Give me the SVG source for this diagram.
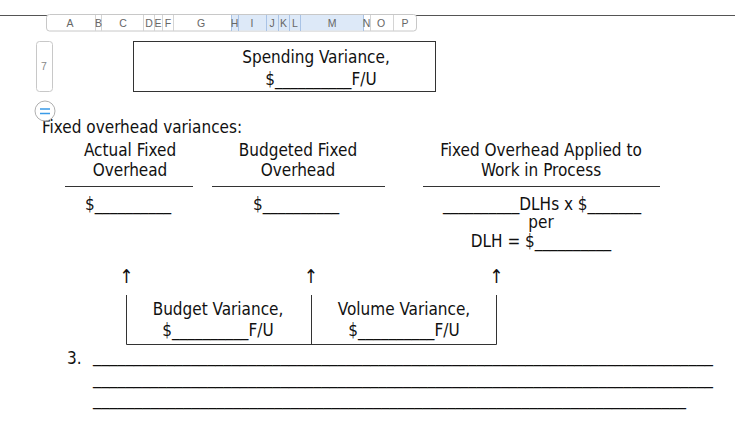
<svg xmlns="http://www.w3.org/2000/svg" width="735" height="448" viewBox="0 0 735 448">
<style>
.t{font-family:"DejaVu Sans Condensed","DejaVu Sans",sans-serif;font-size:17px;fill:#111}
.m{text-anchor:middle}
.h{font-family:"Liberation Sans",Arial,sans-serif;font-size:10.5px;fill:#666;text-anchor:middle}
.ln{stroke:#333;stroke-width:1;fill:none}
.dv{stroke:#d4d4d4;stroke-width:1}
.db{stroke:#a9c3e6;stroke-width:1}
.ar{font-size:19px}
</style>
<rect width="735" height="448" fill="#fff"/>
<g id="sheet-ui">
 <line x1="0" y1="15.5" x2="735" y2="15.5" stroke="#555" stroke-width="1"/>
 <rect x="46.5" y="14.5" width="370" height="16.5" rx="3" fill="#fff" stroke="#c8c8c8"/>
 <rect x="231" y="15" width="132" height="15.5" fill="#dde9f8"/>
 <line class="dv" x1="95.5" y1="15" x2="95.5" y2="31"/>
 <line class="dv" x1="101.5" y1="15" x2="101.5" y2="31"/>
 <line class="dv" x1="143.5" y1="15" x2="143.5" y2="31"/>
 <line class="dv" x1="154.5" y1="15" x2="154.5" y2="31"/>
 <line class="dv" x1="162.5" y1="15" x2="162.5" y2="31"/>
 <line class="dv" x1="173.5" y1="15" x2="173.5" y2="31"/>
 <line class="db" x1="231.5" y1="15" x2="231.5" y2="31"/>
 <line class="db" x1="238.5" y1="15" x2="238.5" y2="31"/>
 <line class="db" x1="266.5" y1="15" x2="266.5" y2="31"/>
 <line class="db" x1="278.5" y1="15" x2="278.5" y2="31"/>
 <line class="db" x1="289.5" y1="15" x2="289.5" y2="31"/>
 <line class="db" x1="300.5" y1="15" x2="300.5" y2="31"/>
 <line class="db" x1="363.5" y1="15" x2="363.5" y2="31"/>
 <line class="dv" x1="370.5" y1="15" x2="370.5" y2="31"/>
 <line class="dv" x1="393.5" y1="15" x2="393.5" y2="31"/>
 <text class="h" x="70" y="27">A</text>
 <text class="h" x="98.5" y="27">B</text>
 <text class="h" x="123" y="27">C</text>
 <text class="h" x="149" y="27">D</text>
 <text class="h" x="158" y="27">E</text>
 <text class="h" x="168" y="27">F</text>
 <text class="h" x="201" y="27">G</text>
 <text class="h" x="234.5" y="27">H</text>
 <text class="h" x="252" y="27">I</text>
 <text class="h" x="272" y="27">J</text>
 <text class="h" x="283.5" y="27">K</text>
 <text class="h" x="295" y="27">L</text>
 <text class="h" x="332" y="27">M</text>
 <text class="h" x="366.5" y="27">N</text>
 <text class="h" x="381" y="27">O</text>
 <text class="h" x="405" y="27">P</text>
 <rect x="36.5" y="41.5" width="16" height="50" rx="3" fill="#fff" stroke="#c8c8c8"/>
 <text class="h" x="44" y="70" style="fill:#888">7</text>
</g>
<g id="spending">
 <rect class="ln" x="133.5" y="41.5" width="302" height="50"/>
 <text class="t m" x="316" y="62.5">Spending Variance,</text>
 <text class="t m" x="321" y="85">$__________F/U</text>
</g>
<g id="title">
 <text class="t" x="42" y="133">Fixed overhead variances:</text>
</g>
<g id="actual">
 <text class="t m" x="130" y="156">Actual Fixed</text>
 <text class="t m" x="130" y="175.5">Overhead</text>
 <line class="ln" x1="65" y1="186.5" x2="193" y2="186.5"/>
 <text class="t" x="85" y="210">$__________</text>
</g>
<g id="budgeted">
 <text class="t m" x="298" y="156">Budgeted Fixed</text>
 <text class="t m" x="298" y="175.5">Overhead</text>
 <line class="ln" x1="212" y1="186.5" x2="385" y2="186.5"/>
 <text class="t" x="253" y="210">$__________</text>
</g>
<g id="applied">
 <text class="t m" x="541" y="156">Fixed Overhead Applied to</text>
 <text class="t m" x="541" y="175.5">Work in Process</text>
 <line class="ln" x1="423" y1="186.5" x2="660" y2="186.5"/>
 <text class="t m" x="542" y="209.5">__________DLHs x $_______</text>
 <text class="t m" x="541" y="227.5">per</text>
 <text class="t m" x="541" y="247">DLH = $__________</text>
</g>
<g id="budget-variance">
 <text class="t m" x="218" y="315">Budget Variance,</text>
 <text class="t m" x="218" y="336">$__________F/U</text>
</g>
<g id="volume-variance">
 <text class="t m" x="404" y="315">Volume Variance,</text>
 <text class="t m" x="404" y="336">$__________F/U</text>
</g>
<g id="connectors">
 <text class="t m ar" x="126.5" y="283">↑</text>
 <text class="t m ar" x="311" y="283">↑</text>
 <text class="t m ar" x="496.5" y="283">↑</text>
 <path class="ln" d="M126.5 295V344.5H496.5V295M311.5 295V344.5"/>
</g>
<g id="answer">
 <text class="t" x="67" y="364">3.</text>
 <text class="t" x="93" y="362" textLength="620" lengthAdjust="spacingAndGlyphs">____________________________________________________________________________</text>
 <text class="t" x="93" y="384" textLength="620" lengthAdjust="spacingAndGlyphs">____________________________________________________________________________</text>
 <text class="t" x="93" y="405" textLength="593" lengthAdjust="spacingAndGlyphs">________________________________________________________________________</text>
</g>
<g id="insert-button">
 <circle cx="45" cy="111" r="10" fill="#fff" stroke="#b0b0b0"/>
 <path d="M40 109H50M40 113.5H50" stroke="#3a9be8" stroke-width="1.3"/>
</g>
</svg>
